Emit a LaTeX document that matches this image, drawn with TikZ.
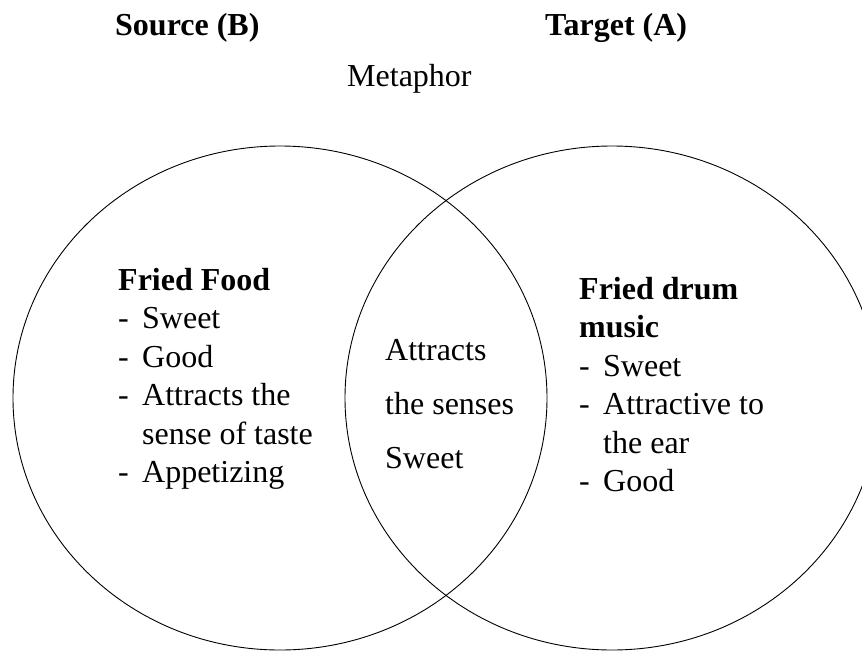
\documentclass[tikz,border=0pt]{standalone}
\usepackage{fontspec}
\setmainfont{Liberation Serif}
\usetikzlibrary{shapes,positioning}

% list entries with a hanging dash
\newcommand{\dashitem}[1]{\makebox[24pt][l]{-}#1}
\newcommand{\contline}[1]{\hspace*{24pt}#1}

\begin{document}
\begin{tikzpicture}[
        x=1pt, y=-1pt,
        venn/.style={ellipse, draw, line width=0.9pt, minimum width=534pt, minimum height=504pt, inner sep=0pt},
        heading/.style={font=\fontsize{32}{38}\selectfont\bfseries, inner sep=0pt, anchor=base west},
        plaintext/.style={font=\fontsize{32}{38}\selectfont, inner sep=0pt, anchor=base west},
        listbox/.style={font=\fontsize{32}{38.5}\selectfont, align=left, inner sep=0pt, anchor=north west},
        overlap/.style={font=\fontsize{32}{54}\selectfont, align=left, inner sep=0pt, anchor=north west}
    ]
    \useasboundingbox (0,0) rectangle (862,651);

    % Headings
    \node[heading] (src) at (115,35) {Source (B)};
    \node[heading] (tgt) at (545,35) {Target (A)};
    \node[plaintext] (meta) at (347,86) {Metaphor};

    % The two sets
    \node[venn] (source) at (280,398) {};
    \node[venn] (target) at (612,398) {};

    % Source side
    \node[listbox] (food) at (118,268) {\textbf{Fried Food}\\
        \dashitem{Sweet}\\
        \dashitem{Good}\\
        \dashitem{Attracts the}\\
        \contline{sense of taste}\\
        \dashitem{Appetizing}};

    % Shared part
    \node[overlap] (shared) at (385,339) {Attracts\\the senses\\Sweet};

    % Target side
    \node[listbox] (drum) at (579,277) {\textbf{Fried drum}\\
        \textbf{music}\\
        \dashitem{Sweet}\\
        \dashitem{Attractive to}\\
        \contline{the ear}\\
        \dashitem{Good}};

\end{tikzpicture}
\end{document}
